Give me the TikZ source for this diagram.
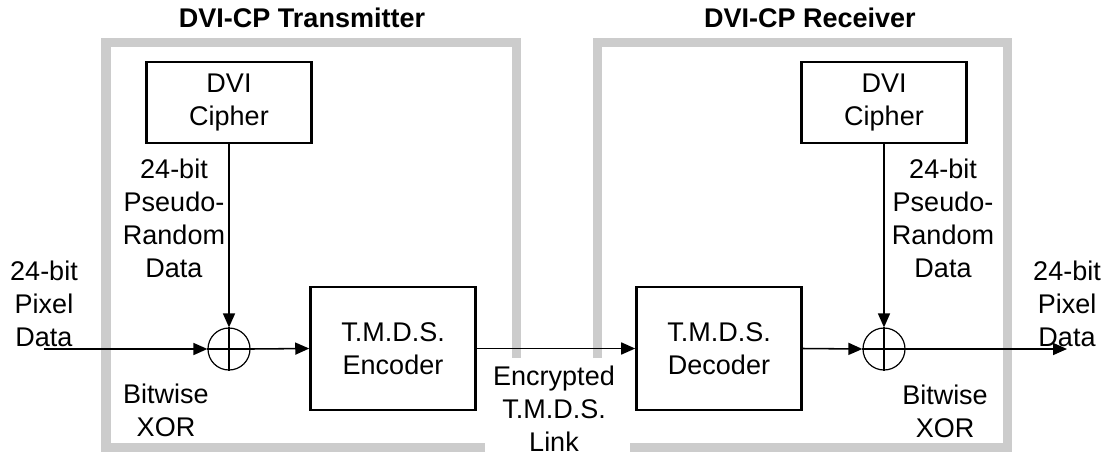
\documentclass[tikz,border=0pt]{standalone}
\usepackage{fontspec}
\setmainfont{Liberation Sans}
\usetikzlibrary{arrows.meta}

\begin{document}
\begin{tikzpicture}[x=0.025cm,y=-0.025cm,font=\fontsize{19.2}{23.4}\selectfont,
  >={Triangle[length=0.35cm,width=0.3cm]},
  frame/.style={draw=black!20,line width=0.225cm},
  blk/.style={draw,line width=1.9pt,minimum width=4.12cm,align=center,inner sep=0pt},
  cipher/.style={blk,minimum height=2.03cm},
  coder/.style={blk,minimum height=3.08cm},
  xor/.style={draw,circle,line width=0.85pt,minimum size=1.05cm,inner sep=0pt},
  lbl/.style={align=center,inner sep=0pt},
  conn/.style={line width=1.1pt}]
  \useasboundingbox (0,0) rectangle (1105,456);
  % grey frames
  \draw[frame] (485,447) -- (106,447) -- (106,42) -- (516,42) -- (516,358);
  \draw[frame] (597,358) -- (597,42) -- (1007,42) -- (1007,447) -- (630,447);
  \node[lbl,font=\fontsize{19.2}{23.4}\selectfont\bfseries] (txtitle) at (302,18) {DVI-CP Transmitter};
  \node[lbl,font=\fontsize{19.2}{23.4}\selectfont\bfseries] (rxtitle) at (810,18) {DVI-CP Receiver};
  % blocks
  \node[cipher] (txcipher) at (229,102.5) {DVI\\Cipher};
  \node[cipher] (rxcipher) at (884,102.5) {DVI\\Cipher};
  \node[coder] (encoder) at (393,348.5) {T.M.D.S.\\Encoder};
  \node[coder] (decoder) at (719,348.5) {T.M.D.S.\\Decoder};
  \node[xor] (txxor) at (229,349) {};
  \node[xor] (rxxor) at (884,349) {};
  \draw[line width=0.85pt] (txxor.north) -- (txxor.south) (txxor.west) -- (txxor.east);
  \draw[line width=0.85pt] (rxxor.north) -- (rxxor.south) (rxxor.west) -- (rxxor.east);
  \coordinate (pixin) at (44,349);
  \coordinate (pixout) at (1067,349);
  % labels
  \node[lbl] (inlbl) at (44,304) {24-bit\\Pixel\\Data};
  \node[lbl] (outlbl) at (1067,304) {24-bit\\Pixel\\Data};
  \node[lbl] (txprn) at (174,218) {24-bit\\Pseudo-\\Random\\Data};
  \node[lbl] (rxprn) at (943,218) {24-bit\\Pseudo-\\Random\\Data};
  \node[lbl] (txbx) at (166,410) {Bitwise\\XOR};
  \node[lbl] (rxbx) at (945,411) {Bitwise\\XOR};
  \node[lbl] (link) at (554,409) {Encrypted\\T.M.D.S.\\Link};
  % connectors
  \draw[conn,->] (pixin) -- (txxor.west);
  \draw[conn,->] (txcipher.south) -- (txxor.north);
  \draw[conn,->] (txxor.east) -- (encoder.west);
  \draw[conn,->] (encoder.east) -- (decoder.west);
  \draw[conn,->] (decoder.east) -- (rxxor.west);
  \draw[conn,->] (rxcipher.south) -- (rxxor.north);
  \draw[conn,->] (rxxor.east) -- (pixout);
\end{tikzpicture}
\end{document}
